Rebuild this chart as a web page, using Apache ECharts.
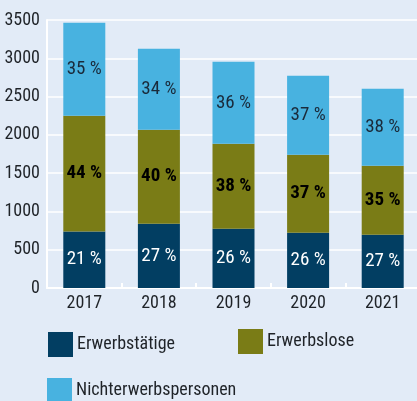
<!DOCTYPE html>
<html>
<head>
<meta charset="utf-8">
<script src="https://cdn.jsdelivr.net/npm/echarts@6/dist/echarts.min.js"></script>
<style>
html,body{margin:0;padding:0;background:#E2EBF7;}
#c{width:417px;height:401px;}
</style>
</head>
<body>
<div id="c"></div>
<script>
var years = ['2017', '2018', '2019', '2020', '2021'];
var erwerbstaetige = [739, 839, 774, 722, 696];
var erwerbslose = [1510, 1228, 1110, 1018, 901];
var nichterwerbspersonen = [1214, 1057, 1070, 1032, 1005];
var pctErwerbstaetige = [21, 27, 26, 26, 27];
var pctErwerbslose = [44, 40, 38, 37, 35];
var pctNichterwerbspersonen = [35, 34, 36, 37, 38];
var yTicks = [0, 500, 1000, 1500, 2000, 2500, 3000, 3500];

var FONT = '"Roboto Condensed", "DejaVu Sans Condensed", sans-serif';
var TEXT = '#1f2328';
var chart = echarts.init(document.getElementById('c'));

function lbl(arr, color, weight) {
  return {
    show: true,
    position: 'inside',
    fontFamily: FONT,
    fontSize: 19,
    color: color,
    fontWeight: weight,
    formatter: function (p) { return arr[p.dataIndex] + ' %'; }
  };
}
function leg(name, left, top) {
  return { left: left, top: top, padding: 0, data: [name], itemWidth: 25, itemHeight: 25, icon: 'rect', itemGap: 0,
    textStyle: { fontFamily: FONT, fontSize: 18, color: TEXT, padding: [0, 0, 0, -1] } };
}

chart.setOption({
  backgroundColor: '#E2EBF7',
  animation: false,
  grid: { left: 47, width: 373, top: 20, bottom: 113, outerBoundsMode: 'none', containLabel: false },
  legend: [
    leg('Erwerbstätige', 48, 332),
    leg('Erwerbslose', 238, 329),
    leg('Nichterwerbspersonen', 47, 378)
  ],
  xAxis: {
    type: 'category',
    data: years,
    axisLine: { lineStyle: { color: '#ffffff', width: 2 } },
    axisTick: { show: true, inside: true, length: 5, lineStyle: { color: '#ffffff', width: 2 } },
    axisLabel: { fontFamily: FONT, fontSize: 18, color: TEXT, margin: 6 }
  },
  yAxis: {
    type: 'value',
    min: yTicks[0],
    max: yTicks[yTicks.length - 1],
    interval: yTicks[1] - yTicks[0],
    axisLine: { show: true, lineStyle: { color: '#ffffff', width: 2 } },
    axisTick: { show: false },
    splitLine: { lineStyle: { color: '#ffffff', width: 1.5 } },
    axisLabel: { fontFamily: FONT, fontSize: 18, color: TEXT, margin: 7,
      formatter: function (v) { return String(v); } }
  },
  series: [
    { name: 'Erwerbstätige', type: 'bar', stack: 'a', barWidth: 42, data: erwerbstaetige,
      itemStyle: { color: '#023E62' }, label: lbl(pctErwerbstaetige, '#ffffff', 'normal') },
    { name: 'Erwerbslose', type: 'bar', stack: 'a', barWidth: 42, data: erwerbslose,
      itemStyle: { color: '#7A7C16' }, label: lbl(pctErwerbslose, '#000000', 'bold') },
    { name: 'Nichterwerbspersonen', type: 'bar', stack: 'a', barWidth: 42, data: nichterwerbspersonen,
      itemStyle: { color: '#48B2E0' }, label: lbl(pctNichterwerbspersonen, '#1a2a3a', 'normal') }
  ]
});
</script>
</body>
</html>
